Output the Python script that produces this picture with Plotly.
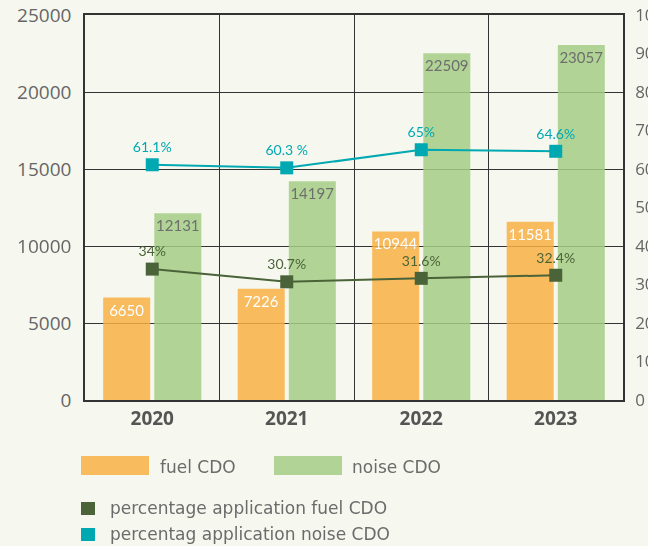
import plotly.graph_objects as go

years = ["2020", "2021", "2022", "2023"]
fuel_cdo = [6650, 7226, 10944, 11581]
noise_cdo = [12131, 14197, 22509, 23057]
pct_fuel = [34, 30.7, 31.6, 32.4]
pct_noise = [61.1, 60.3, 65, 64.6]
pct_fuel_labels = ["34%", "30.7%", "31.6%", "32.4%"]
pct_noise_labels = ["61.1%", "60.3 %", "65%", "64.6%"]

BG = "#F6F8EF"
FUEL = "#F8B144"
NOISE = "#A4CE86"
DARKG = "#4B6339"
CYAN = "#00A9B2"
GREY = "#5E5E5E"
FONT = "Open Sans, sans-serif"
LEGFONT = "DejaVu Sans, sans-serif"

W, H = 648, 546
ML, MR, MT, MB = 85, 25, 15, 146
PW, PH = W - ML - MR, H - MT - MB


def px(x):
    return (x - ML) / PW


def py(y):
    return (H - MB - y) / PH


fig = go.Figure()
fig.add_trace(go.Bar(
    x=years, y=fuel_cdo, name="fuel CDO",
    marker=dict(color=FUEL, line=dict(width=0)), opacity=0.85,
    text=[str(v) for v in fuel_cdo], textposition="inside",
    insidetextanchor="end", textangle=0, constraintext="none",
    textfont=dict(color="white", size=15, family="Lato, sans-serif"),
    showlegend=False,
))
fig.add_trace(go.Bar(
    x=years, y=noise_cdo, name="noise CDO",
    marker=dict(color=NOISE, line=dict(width=0)), opacity=0.85,
    text=[str(v) for v in noise_cdo], textposition="inside",
    insidetextanchor="end", textangle=0, constraintext="none",
    textfont=dict(color="#555555", size=15, family="Lato, sans-serif"),
    showlegend=False,
))
fig.add_trace(go.Scatter(
    x=years, y=pct_fuel, yaxis="y2", mode="lines+markers+text",
    name="percentage application fuel CDO",
    line=dict(color=DARKG, width=2),
    marker=dict(symbol="square", size=13, color=DARKG),
    text=pct_fuel_labels, textposition="top center",
    textfont=dict(color=DARKG, size=14, family="Lato, sans-serif"),
    showlegend=False,
))
fig.add_trace(go.Scatter(
    x=years, y=pct_noise, yaxis="y2", mode="lines+markers+text",
    name="percentag application noise CDO",
    line=dict(color=CYAN, width=2),
    marker=dict(symbol="square", size=13, color=CYAN),
    text=pct_noise_labels, textposition="top center",
    textfont=dict(color=CYAN, size=14, family="Lato, sans-serif"),
    showlegend=False,
))

# custom legend
shapes = []
annotations = []
legend_items = [
    (81, 149, 456, 475, FUEL, 158, 467, "fuel CDO"),
    (274, 342, 456, 475, NOISE, 350, 467, "noise CDO"),
    (81, 95, 502, 515, DARKG, 108, 508, "percentage application fuel CDO"),
    (81, 95, 528, 541, CYAN, 108, 534, "percentag application noise CDO"),
]
for x0, x1, y0, y1, col, tx, ty, label in legend_items:
    shapes.append(dict(type="rect", xref="paper", yref="paper",
                       x0=px(x0), x1=px(x1), y0=py(y1), y1=py(y0),
                       fillcolor=col, line=dict(width=0),
                       opacity=0.85 if col in (FUEL, NOISE) else 1))
    annotations.append(dict(xref="paper", yref="paper", x=px(tx), y=py(ty),
                            xanchor="left", yanchor="middle", showarrow=False,
                            text=label, font=dict(family=LEGFONT, size=17, color="#6B6B6B")))

fig.update_layout(
    width=W, height=H,
    margin=dict(l=ML, r=MR, t=MT, b=MB, autoexpand=False),
    paper_bgcolor=BG, plot_bgcolor=BG,
    barmode="group", bargap=0.24, bargroupgap=0.08,
    font=dict(family=FONT, color=GREY),
    xaxis=dict(type="category", tickson="boundaries", showgrid=True,
               gridcolor="#333333", gridwidth=1, showline=True,
               linecolor="#333333", linewidth=1.5, mirror=True,
               ticks="", automargin=False,
               tickfont=dict(size=19, color="#555555", family=FONT, weight="bold")),
    yaxis=dict(range=[0, 25000], dtick=5000, tickformat="d", showgrid=True,
               gridcolor="#333333", gridwidth=1, showline=True,
               linecolor="#333333", linewidth=1.5, automargin=False,
               ticks="", zeroline=False, tickfont=dict(size=19, color="#666666"),
               ticklabelstandoff=8),
    yaxis2=dict(range=[0, 100], dtick=10, overlaying="y", side="right",
                showgrid=False, showline=True, linecolor="#333333", linewidth=1.5,
                automargin=False,
                ticks="", zeroline=False, tickfont=dict(size=17, color="#666666"),
                ticklabelstandoff=7),
    shapes=shapes, annotations=annotations,
)

fig.write_html("out.html", config={"displayModeBar": False},
               post_script="document.body.style.margin='0';")
